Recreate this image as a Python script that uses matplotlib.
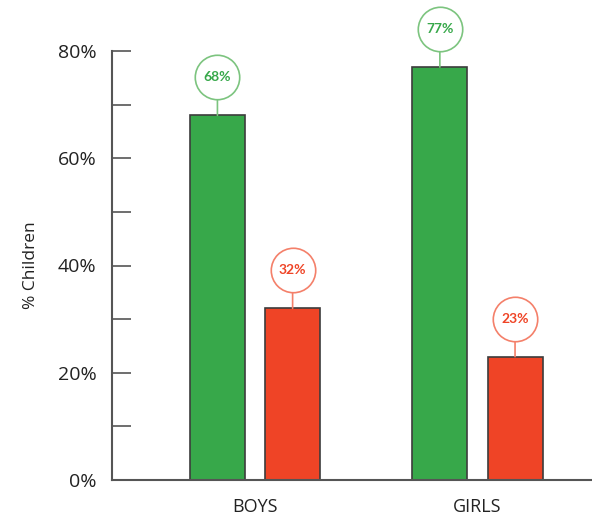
import matplotlib.pyplot as plt
from matplotlib.ticker import MultipleLocator, FuncFormatter
from matplotlib.transforms import offset_copy

groups = ['BOYS', 'GIRLS']
yes_vals = [68, 77]
no_vals = [32, 23]

GREEN = '#37a84a'
RED = '#ef4426'
GREEN_LIGHT = '#7cc47f'
RED_LIGHT = '#f4806a'
AXIS = '#555555'

plt.rcParams['font.family'] = ['Open Sans', 'DejaVu Sans']

fig = plt.figure(figsize=(5.92, 5.17), dpi=100)
ax = fig.add_axes([112/592, 37/517, 480/592, 429/517])

width = 0.247
off = 0.169
xs = list(range(len(groups)))

bubble_tr = offset_copy(ax.transData, fig=fig, x=0, y=38, units='dots')


def bubble(x, v, edge, txt_color):
    # stem from bar top, then a circle with the value
    ax.annotate('', xy=(x, v), xytext=(0, 16), textcoords='offset pixels',
                arrowprops=dict(arrowstyle='-', color=edge, lw=1.2,
                                shrinkA=0, shrinkB=0), annotation_clip=False)
    ax.plot([x], [v], marker='o', ms=32, mfc='white', mec=edge, mew=1.2,
            transform=bubble_tr, clip_on=False, zorder=3)
    ax.text(x, v, f'{v}%', transform=bubble_tr, ha='center', va='center',
            fontsize=10, fontweight='bold', color=txt_color, zorder=4,
            family=['Lato', 'DejaVu Sans'])


for i, x in enumerate(xs):
    ax.bar(x - off, yes_vals[i], width, color=GREEN, edgecolor='#3c3c3c', lw=1.2, zorder=2)
    ax.bar(x + off, no_vals[i], width, color=RED, edgecolor='#3c3c3c', lw=1.2, zorder=2)
    bubble(x - off, yes_vals[i], GREEN_LIGHT, GREEN)
    bubble(x + off, no_vals[i], RED_LIGHT, RED)

ax.set_xlim(-0.643, 1.515)
ax.set_ylim(0, 80)
ax.set_xticks(xs)
ax.set_xticklabels(groups, fontsize=13, color='#222222')
ax.tick_params(axis='x', length=0, pad=13)

ax.yaxis.set_major_locator(MultipleLocator(20))
ax.yaxis.set_minor_locator(MultipleLocator(10))
ax.yaxis.set_major_formatter(FuncFormatter(lambda v, p: f'{v:.0f}%'))
ax.tick_params(axis='y', which='both', direction='in', length=14, width=1.2,
               color=AXIS, pad=11, labelsize=14, labelcolor='#222222')

for s in ['top', 'right']:
    ax.spines[s].set_visible(False)
for s in ['left', 'bottom']:
    ax.spines[s].set_color(AXIS)
    ax.spines[s].set_linewidth(1.5)

ax.set_ylabel('% Children', fontsize=12.5, color='#222222', labelpad=14)

fig.savefig('out.png', dpi=100)
